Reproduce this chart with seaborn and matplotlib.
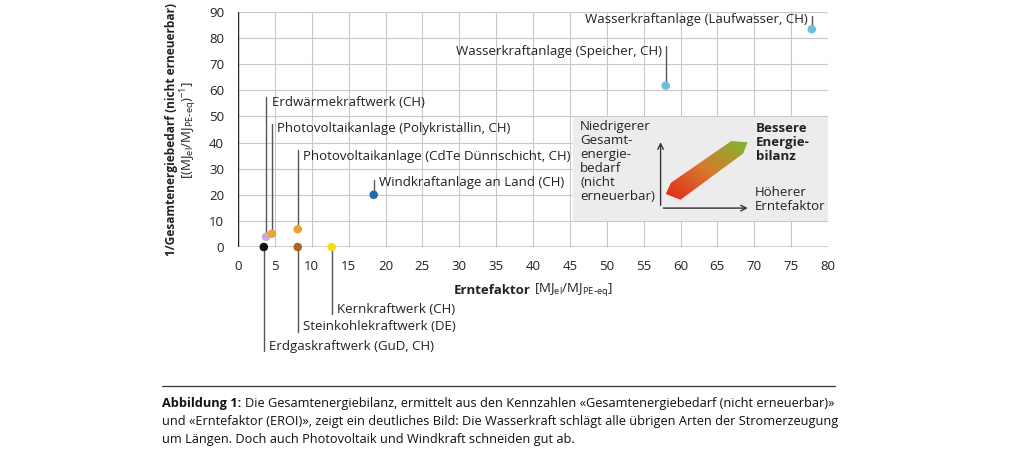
import numpy as np
import pandas as pd
import matplotlib
matplotlib.use('Agg')
import matplotlib.pyplot as plt
from matplotlib.patches import Rectangle, Polygon
from matplotlib.colors import LinearSegmentedColormap
import seaborn as sns

sns.set_style("white")
plt.rcParams['font.family'] = ['Open Sans', 'DejaVu Sans']

# data
anlagen = ["Erdgaskraftwerk (GuD, CH)", "Erdwärmekraftwerk (CH)",
           "Photovoltaikanlage (Polykristallin, CH)",
           "Photovoltaikanlage (CdTe Dünnschicht, CH)",
           "Steinkohlekraftwerk (DE)", "Kernkraftwerk (CH)",
           "Windkraftanlage an Land (CH)", "Wasserkraftanlage (Speicher, CH)",
           "Wasserkraftanlage (Laufwasser, CH)"]
erntefaktor = [3.5, 3.8, 4.6, 8.1, 8.1, 12.7, 18.4, 58.0, 77.8]
gesamtenergie = [0, 3.9, 5.1, 6.8, 0, 0, 20.0, 61.8, 83.4]
farben = ["#111111", "#d4a6d6", "#eaa23c", "#eba22c", "#a8661f",
          "#f4dc1c", "#1f6ea6", "#6dc0dc", "#6dc0dc"]

# label placement: (y of label, y end of leader line, side)
label_pos = [(-38.0, -40.0, 'l'), (55.2, 57.5, 'l'), (45.2, 47.2, 'l'),
             (34.6, 37.3, 'l'), (-30.6, -32.6, 'l'), (-23.8, -25.8, 'l'),
             (24.6, 25.8, 'l'), (74.8, 77.0, 'r'), (87.0, 88.6, 'r')]

df = pd.DataFrame({"Anlage": anlagen, "Erntefaktor": erntefaktor,
                   "Gesamt": gesamtenergie})

fig = plt.figure(figsize=(10.24, 4.49), dpi=100)
ax = fig.add_axes([238 / 1024, 1 - 247 / 449, 590 / 1024, 235 / 449])

sns.scatterplot(data=df, x="Erntefaktor", y="Gesamt", hue="Anlage",
                palette=dict(zip(anlagen, farben)), s=38, edgecolor='none',
                legend=False, zorder=6, clip_on=False, ax=ax)

ax.set_xticks(range(0, 81, 5))
ax.set_yticks(range(0, 91, 10))
ax.grid(True, color="#c8c8c8", lw=0.8)
ax.set_axisbelow(True)
for s in ax.spines.values():
    s.set_visible(False)
ax.axhline(0, color="#222222", lw=1, zorder=3)
ax.axvline(0, color="#222222", lw=1, zorder=3)
ax.tick_params(axis='x', length=0, pad=9, labelsize=9.5, colors="#222222")
ax.tick_params(axis='y', length=6, color="#c8c8c8", width=0.8, pad=4,
               labelsize=9.5, colors="#222222")
ax.set_xlabel("")
ax.set_ylabel("")

# leader lines and labels
for name, x, y, (ly, lend, side) in zip(anlagen, erntefaktor, gesamtenergie, label_pos):
    ax.plot([x, x], [y, lend], color="#555555", lw=1, zorder=4, clip_on=False)
    if side == 'l':
        ax.text(x + 0.75, ly, name, ha='left', va='center', fontsize=9.5,
                color="#222222", clip_on=False)
    else:
        ax.text(x - 0.55, ly, name, ha='right', va='center', fontsize=9.5,
                color="#222222", clip_on=False)

# inset explaining the reading direction
ax.add_patch(Rectangle((45.4, 10), 34.6, 39.8, facecolor="#ececec",
                       edgecolor='none', zorder=2))
ax.annotate("", xy=(57.3, 41.2), xytext=(57.3, 14.9),
            arrowprops=dict(arrowstyle='->', color="#333333", lw=1), zorder=5)
ax.annotate("", xy=(69.5, 14.9), xytext=(57.3, 14.9),
            arrowprops=dict(arrowstyle='->', color="#333333", lw=1), zorder=5)
ax.text(46.4, 48.6, "Niedrigerer\nGesamt-\nenergie-\nbedarf\n(nicht\nerneuerbar)",
        ha='left', va='top', fontsize=9.5, linespacing=1.1, color="#222222", zorder=5)
ax.text(70.2, 47.9, "Bessere\nEnergie-\nbilanz", ha='left', va='top',
        fontsize=9.5, fontweight='bold', linespacing=1.1, color="#222222", zorder=5)
ax.text(70.0, 23.4, "Höherer\nErntefaktor", ha='left', va='top',
        fontsize=9.5, linespacing=1.1, color="#222222", zorder=5)

pfeil = Polygon([(58.0, 20.3), (58.7, 24.6), (66.9, 40.6), (69.1, 40.1),
                 (68.5, 35.8), (60.0, 18.1)], closed=True, facecolor='none',
                edgecolor='none', transform=ax.transData)
ax.add_patch(pfeil)
cmap = LinearSegmentedColormap.from_list("rg", ["#e2281a", "#d9792c", "#7db932"])
gx, gy = np.meshgrid(np.linspace(0, 1, 200), np.linspace(0, 1, 200))
grad = (gx + gy) / 2
img = ax.imshow(grad, cmap=cmap, origin='lower', extent=(58.0, 69.1, 18.1, 40.6),
                aspect='auto', zorder=4)
img.set_clip_path(pfeil)
ax.set_xlim(0, 80)
ax.set_ylim(0, 90)

# axis titles
fig.text(531 / 1024, 1 - 290 / 449, "Erntefaktor", ha='right', va='center',
         fontsize=9.5, fontweight='bold', color="#222222")
fig.text(534 / 1024, 1 - 290 / 449, r"[MJ$_{\mathregular{el}}$/MJ$_{\mathregular{PE\text{-}eq}}$]",
         ha='left', va='center', fontsize=9.5, color="#222222")
fig.text(171 / 1024, 1 - 130 / 449, "1/Gesamtenergiebedarf (nicht erneuerbar)",
         rotation=90, ha='center', va='center', fontsize=8.6, fontweight='bold',
         color="#222222")
fig.text(189 / 1024, 1 - 130 / 449,
         r"[(MJ$_{\mathregular{el}}$/MJ$_{\mathregular{PE\text{-}eq}}$)$^{\mathregular{-1}}$]",
         rotation=90, ha='center', va='center', fontsize=9.5, color="#222222")

# caption
fig.add_artist(plt.Line2D([162 / 1024, 835 / 1024], [1 - 386 / 449] * 2,
                          color="#333333", lw=0.9))
cap_y = [404, 422, 440]
bold = fig.text(162 / 1024, 1 - cap_y[0] / 449, "Abbildung 1:", ha='left', va='center',
                fontsize=9.2, fontweight='bold', color="#111111")
renderer = fig.canvas.get_renderer()
bb = bold.get_window_extent(renderer)
fig.text((bb.x1 + 4) / 1024, 1 - cap_y[0] / 449,
         "Die Gesamtenergiebilanz, ermittelt aus den Kennzahlen «Gesamtenergiebedarf (nicht erneuerbar)»",
         ha='left', va='center', fontsize=9.2, color="#111111")
fig.text(162 / 1024, 1 - cap_y[1] / 449,
         "und «Erntefaktor (EROI)», zeigt ein deutliches Bild: Die Wasserkraft schlägt alle übrigen Arten der Stromerzeugung",
         ha='left', va='center', fontsize=9.2, color="#111111")
fig.text(162 / 1024, 1 - cap_y[2] / 449,
         "um Längen. Doch auch Photovoltaik und Windkraft schneiden gut ab.",
         ha='left', va='center', fontsize=9.2, color="#111111")

fig.savefig("out.png", dpi=100)
